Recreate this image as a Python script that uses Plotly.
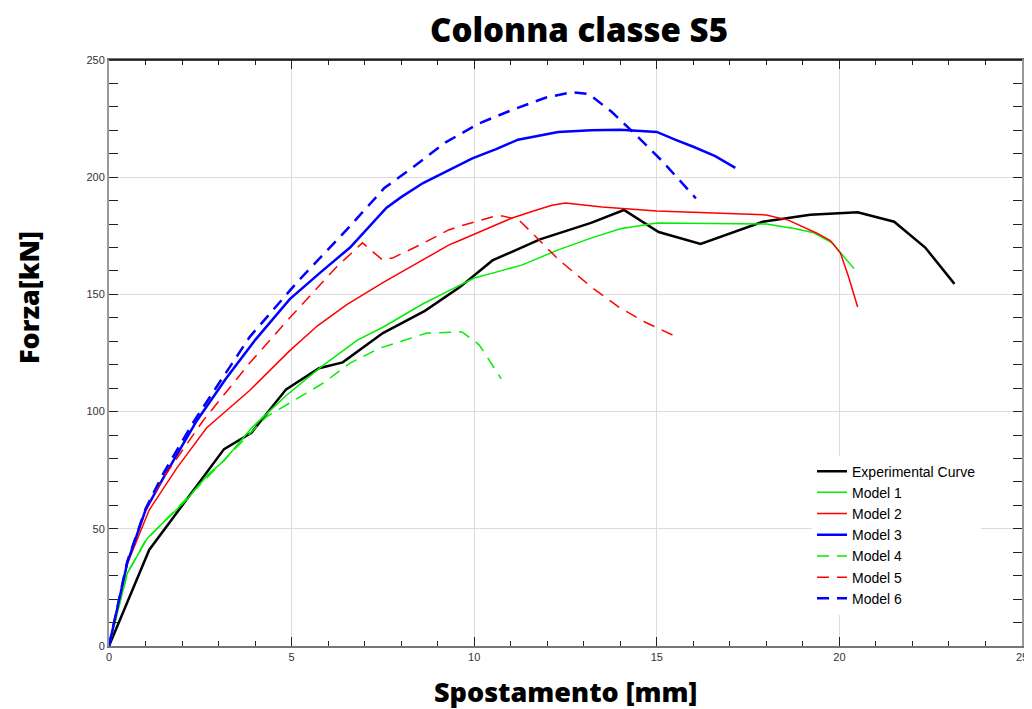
import plotly.graph_objects as go

# data (displacement mm, force kN)
exp_x = [0, 1.1, 3.15, 3.9, 4.85, 5.75, 6.4, 7.5, 8.65, 9.6, 10.5, 11.8, 13.2, 14.1, 15.05, 16.2, 17.9, 19.2, 20.5, 21.5, 22.35, 23.15]
exp_y = [0, 41, 84, 91, 109.5, 118.5, 121, 133.5, 143, 153, 164.5, 173.5, 180.5, 186, 176.6, 171.5, 181, 184, 185, 181, 170, 154.5]

m1_x = [0, 0.5, 1.05, 2.1, 2.7, 3.15, 3.9, 4.86, 5.8, 6.8, 7.5, 8.6, 9.3, 10.0, 10.6, 11.3, 12.3, 13.2, 14.0, 15.0, 16.5, 18.0, 18.8, 19.3, 19.8, 20.4]
m1_y = [0, 31, 46, 62, 73, 79, 93, 107, 119, 130.5, 136, 146, 151.5, 157, 159.5, 162.5, 169, 174, 178, 180.5, 180.3, 180, 178, 176.3, 172, 161]

m2_x = [0, 0.5, 1.1, 1.86, 2.67, 3.85, 4.95, 5.7, 6.5, 7.5, 8.4, 9.3, 9.6, 10.4, 11.04, 11.6, 12.13, 12.5, 13.5, 15.0, 16.6, 17.5, 18.0, 18.6, 19.4, 19.75, 20.03, 20.25, 20.5]
m2_y = [0, 35, 58, 76, 93, 109, 126, 136.5, 145.5, 155, 163, 171, 173, 178.5, 182.6, 185.5, 188, 189, 187.3, 185.6, 184.8, 184.3, 183.9, 181.7, 176, 173, 167.6, 157.5, 144.6]

m3_x = [0, 0.5, 1.0, 1.5, 2.4, 3.2, 4.0, 4.95, 5.8, 6.6, 7.6, 8.0, 8.6, 9.3, 9.95, 10.6, 11.2, 12.3, 13.2, 14.0, 15.0, 15.5, 16.0, 16.6, 17.15]
m3_y = [0, 35.5, 58, 72, 96, 114, 130.5, 148, 159.5, 170, 187, 191.5, 197.5, 203, 208, 212, 216, 219.3, 220, 220.2, 219.3, 216, 213, 209, 204]

m4_x = [0, 0.5, 1.0, 2.0, 3.0, 4.3, 5.85, 6.6, 7.4, 8.7, 9.67, 10.14, 10.74]
m4_y = [0, 31, 45, 61, 77, 97.7, 112, 120.7, 127, 133.5, 134, 128.4, 114]

m5_x = [0, 0.5, 1.0, 1.5, 2.57, 3.85, 4.95, 6.23, 6.94, 7.49, 7.76, 8.5, 9.3, 9.59, 10.6, 10.77, 11.23, 11.6, 12.32, 13.22, 13.96, 14.7, 15.52]
m5_y = [0, 35.5, 58, 72, 96, 120.7, 140, 161.7, 172, 164.7, 165.5, 171, 177.5, 179, 183.5, 183.5, 181.7, 176, 164.7, 153, 144.6, 138, 132]

m6_x = [0, 0.5, 1.0, 1.5, 2.35, 3.85, 5.14, 6.58, 7.54, 8.3, 9.23, 10.14, 11.04, 11.97, 12.68, 13.14, 13.77, 14.3, 15.14, 16.07]
m6_y = [0, 36, 58.5, 74, 96.5, 131.8, 155, 178.8, 195.4, 204, 215, 223, 228.7, 234, 236.3, 235.5, 227.8, 220, 207, 191]

names = ['Experimental Curve', 'Model 1', 'Model 2', 'Model 3', 'Model 4', 'Model 5', 'Model 6']
xs = [exp_x, m1_x, m2_x, m3_x, m4_x, m5_x, m6_x]
ys = [exp_y, m1_y, m2_y, m3_y, m4_y, m5_y, m6_y]
colors = ['black', '#00ee00', '#ff0000', '#0000ff', '#00ee00', '#ff0000', '#0000ff']
widths = [2.5, 1.5, 1.5, 2.5, 1.5, 1.5, 2.5]
dashes = ['solid', 'solid', 'solid', 'solid', '12px,8px', '12px,8px', '12px,8px']

fig = go.Figure()
for n, x, y, c, w, d in zip(names, xs, ys, colors, widths, dashes):
    fig.add_trace(go.Scatter(x=x, y=y, mode='lines', name=n,
                             line=dict(color=c, width=w, dash=d)))

tickfont = dict(family='Liberation Sans, Arial', size=11, color='#333')
titlefont = dict(family='Open Sans', size=27, color='black', weight=800)

fig.update_xaxes(range=[0, 25], tickmode='linear', tick0=0, dtick=5, automargin=False,
                 showgrid=True, gridcolor='#dcdcdc', gridwidth=1, zeroline=False,
                 showline=True, linecolor='#777', linewidth=1.5, mirror='ticks',
                 ticks='inside', ticklen=9, tickcolor='#222',
                 minor=dict(ticks='inside', dtick=1, ticklen=5, tickcolor='#222', showgrid=False),
                 tickfont=tickfont)
fig.update_yaxes(range=[0, 250], tickmode='linear', tick0=0, dtick=50, automargin=False,
                 showgrid=True, gridcolor='#dcdcdc', gridwidth=1, zeroline=False,
                 showline=True, linecolor='#999', linewidth=2, mirror='ticks',
                 ticks='inside', ticklen=9, tickcolor='#222',
                 minor=dict(ticks='inside', dtick=10, ticklen=9, tickcolor='#222', showgrid=False),
                 tickfont=tickfont)

# black top border line
fig.add_shape(type='line', xref='paper', yref='paper', x0=0, x1=1, y0=1, y1=1,
              line=dict(color='black', width=1.5))

# axis titles as annotations (y title sits above the plot centre in the reference)
fig.add_annotation(text='Spostamento [mm]', xref='paper', yref='paper', x=0.5, y=-0.077,
                   xanchor='center', yanchor='middle', showarrow=False, font=titlefont)
fig.add_annotation(text='Forza[kN]', xref='paper', yref='paper', x=-0.0875, y=0.594,
                   xanchor='center', yanchor='middle', textangle=-90, showarrow=False, font=titlefont)

# page body has an 8px margin, so the figure is sized/margined to land on the reference frame
fig.update_layout(
    width=1024, height=701,
    title=dict(text='Colonna classe S5', x=0.5576, xanchor='center', y=0.968, yanchor='middle',
               font=dict(family='Open Sans', size=33, color='black', weight=800)),
    margin=dict(l=101, r=10, t=52, b=63),
    plot_bgcolor='white', paper_bgcolor='white',
    legend=dict(x=0.77, y=0.325, xanchor='left', yanchor='top', bgcolor='white',
                borderwidth=0, tracegroupgap=0,
                font=dict(family='Liberation Sans, Arial', size=14, color='black')),
)

fig.write_html("out.html")
